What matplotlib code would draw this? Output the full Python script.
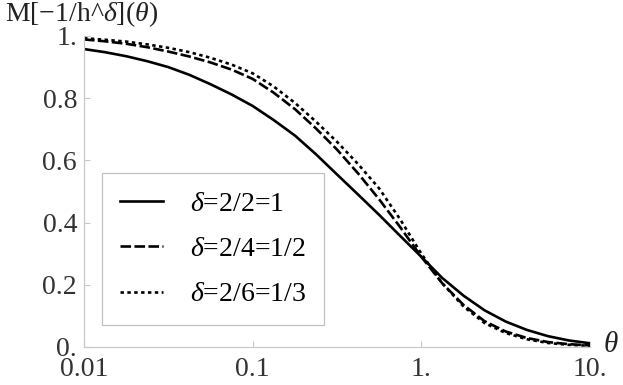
import matplotlib
matplotlib.use("Agg")
import matplotlib.pyplot as plt
from matplotlib.ticker import FixedLocator, FixedFormatter, NullLocator

# theta values (log spaced)
theta = [0.01, 0.0133, 0.0178, 0.0237, 0.0316, 0.0422, 0.0562, 0.075,
         0.1, 0.133, 0.178, 0.237, 0.316, 0.422, 0.562, 0.75,
         1.0, 1.33, 1.78, 2.37, 3.16, 4.22, 5.62, 7.5, 10.0]

# delta = 1
m_delta_1 = [0.958, 0.948, 0.935, 0.919, 0.900, 0.875, 0.845, 0.812,
             0.775, 0.730, 0.680, 0.620, 0.555, 0.490, 0.425, 0.357,
             0.290, 0.222, 0.165, 0.118, 0.082, 0.055, 0.035, 0.021, 0.012]
# delta = 1/2
m_delta_half = [0.989, 0.983, 0.975, 0.964, 0.950, 0.934, 0.915, 0.892,
                0.862, 0.818, 0.765, 0.703, 0.635, 0.558, 0.475, 0.385,
                0.290, 0.205, 0.135, 0.083, 0.050, 0.029, 0.016, 0.009, 0.005]
# delta = 1/3
m_delta_third = [0.993, 0.988, 0.982, 0.973, 0.962, 0.948, 0.930, 0.908,
                 0.880, 0.838, 0.785, 0.725, 0.660, 0.588, 0.510, 0.410,
                 0.300, 0.205, 0.130, 0.077, 0.045, 0.025, 0.013, 0.007, 0.004]

labels = [r"$\delta$=2/2=1", r"$\delta$=2/4=1/2", r"$\delta$=2/6=1/3"]
x_ticks = [0.01, 0.1, 1, 10]
x_ticklabels = ["0.01", "0.1", "1.", "10."]
y_ticks = [0, 0.2, 0.4, 0.6, 0.8, 1.0]
y_ticklabels = ["0.", "0.2", "0.4", "0.6", "0.8", "1."]

plt.rcParams["font.family"] = "serif"
plt.rcParams["font.serif"] = ["Liberation Serif"]
plt.rcParams["mathtext.fontset"] = "custom"
plt.rcParams["mathtext.rm"] = "Liberation Serif"
plt.rcParams["mathtext.it"] = "Liberation Serif:italic"

W, H = 623, 385
fs = 20
fig = plt.figure(figsize=(W / 100, H / 100), dpi=100)
ax = fig.add_axes([84 / W, 1 - 347 / H, (590 - 84) / W, (347 - 36) / H])

lw = 1.9
ax.plot(theta, m_delta_1, color="black", lw=lw, label=labels[0])
ax.plot(theta, m_delta_half, color="black", lw=lw, dashes=(4, 1.3), label=labels[1])
ax.plot(theta, m_delta_third, color="black", lw=lw, dashes=(1.3, 1.3), label=labels[2])

ax.set_xscale("log")
ax.set_xlim(0.01, 10)
ax.set_ylim(0, 1)

ax.xaxis.set_major_locator(FixedLocator(x_ticks))
ax.xaxis.set_major_formatter(FixedFormatter(x_ticklabels))
ax.xaxis.set_minor_locator(NullLocator())
ax.yaxis.set_major_locator(FixedLocator(y_ticks))
ax.yaxis.set_major_formatter(FixedFormatter(y_ticklabels))

for s in ["top", "right"]:
    ax.spines[s].set_visible(False)
for s in ["left", "bottom"]:
    ax.spines[s].set_color("#c8c8c8")
    ax.spines[s].set_linewidth(0.9)

ax.tick_params(direction="in", length=4, width=0.8, color="#c8c8c8",
               labelcolor="#333333", labelsize=fs)
ax.tick_params(axis="x", pad=7)
ax.tick_params(axis="y", pad=5)

leg = ax.legend(loc="upper left", bbox_to_anchor=(102 / W, 1 - 173 / H),
                bbox_transform=fig.transFigure, borderaxespad=0,
                fontsize=fs, handlelength=1.55, handletextpad=0.95,
                labelspacing=0.72, borderpad=0.65, fancybox=False,
                framealpha=1)
leg.get_frame().set_edgecolor("#c0c0c0")
leg.get_frame().set_linewidth(0.9)

fig.text(5 / W, 1 - 21 / H, r"M[−1/h^$\delta$]($\theta$)", fontsize=fs,
         color="#222222", va="baseline", ha="left")
fig.text(603 / W, 1 - 352 / H, r"$\theta$", fontsize=fs + 1,
         color="#222222", va="baseline", ha="left")

fig.savefig("out.png", dpi=100)
